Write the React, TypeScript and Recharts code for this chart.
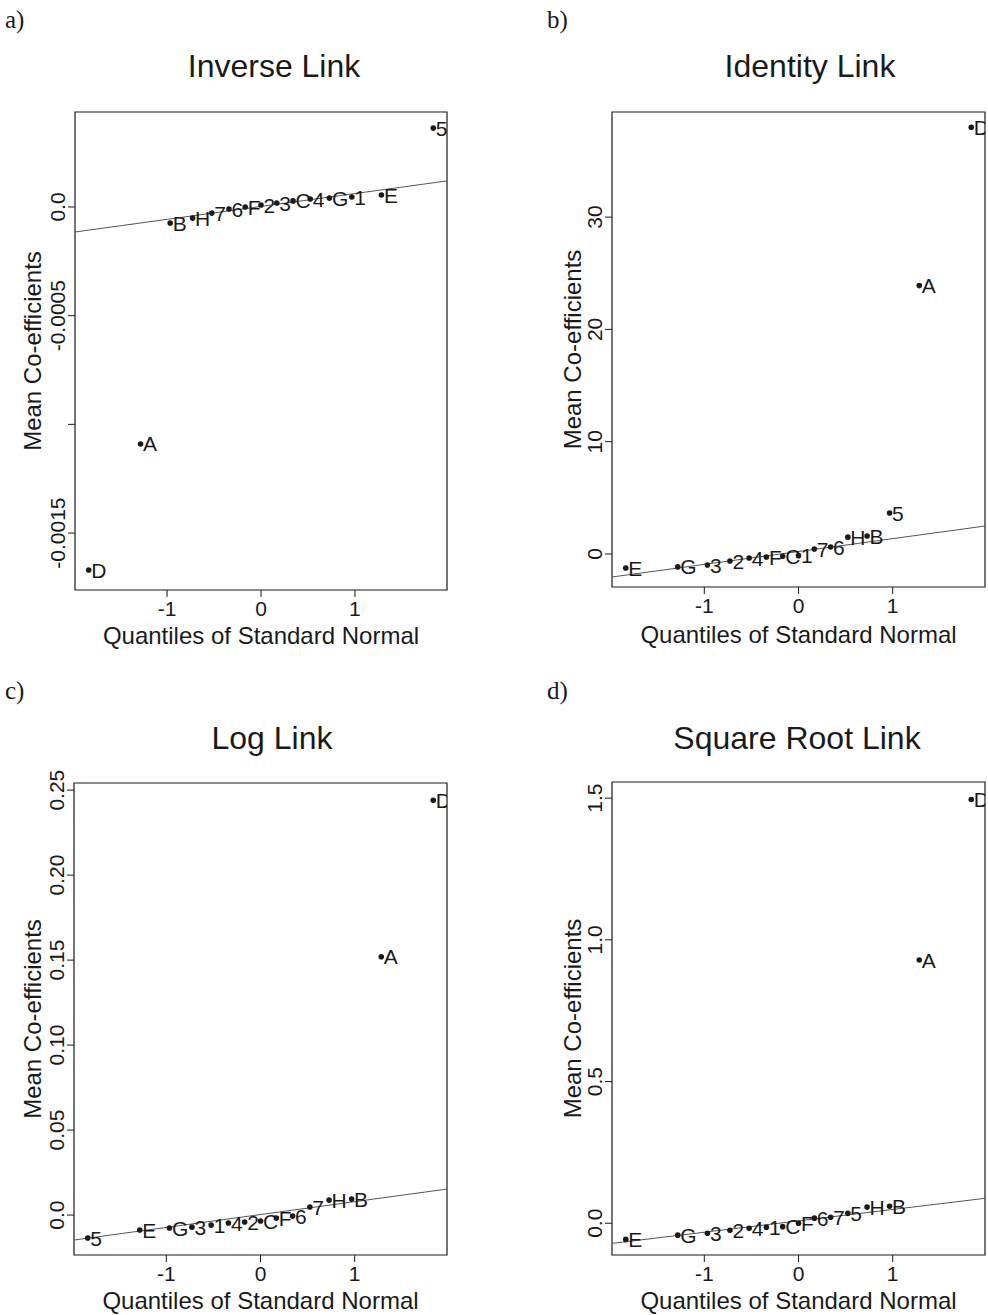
import React from 'react'
import { ScatterChart, Scatter, XAxis, YAxis, ReferenceLine, ReferenceArea } from 'recharts'

// normal quantiles along the x axis (same for every panel)
const quantiles = [-1.834, -1.282, -0.967, -0.728, -0.524, -0.341, -0.168, 0, 0.168, 0.341, 0.524, 0.728, 0.967, 1.282, 1.834]
const xDomain = [-1.98, 1.98]
const xTicks = [-1, 0, 1]

// a) Inverse link
const labelsA = ['D', 'A', 'B', 'H', '7', '6', 'F', '2', '3', 'C', '4', 'G', '1', 'E', '5']
const valuesA = [-0.00167, -0.00109, -0.000074, -0.000051, -0.000028, -0.000009, 0, 0.000009, 0.000018, 0.000028, 0.000037, 0.000041, 0.000046, 0.000055, 0.000363]
const lineA = [-0.000115, 0.00012]
const ticksA = [-0.0015, -0.001, -0.0005, 0]
const tickLabelsA = ['-0.0015', '', '-0.0005', '0.0']

// b) Identity link
const labelsB = ['E', 'G', '3', '2', '4', 'F', 'C', '1', '7', '6', 'H', 'B', '5', 'A', 'D']
const valuesB = [-1.25, -1.15, -0.98, -0.62, -0.36, -0.27, -0.2, -0.15, 0.44, 0.62, 1.5, 1.6, 3.65, 23.9, 38.0]
const lineB = [-2.05, 2.49]
const ticksB = [0, 10, 20, 30]
const tickLabelsB = ['0', '10', '20', '30']

// c) Log link
const labelsC = ['5', 'E', 'G', '3', '1', '4', '2', 'C', 'F', '6', '7', 'H', 'B', 'A', 'D']
const valuesC = [-0.0135, -0.0088, -0.0076, -0.0071, -0.0059, -0.0047, -0.0041, -0.0035, -0.0018, -0.0006, 0.0047, 0.0088, 0.0094, 0.152, 0.244]
const lineC = [-0.0147, 0.0153]
const ticksC = [0, 0.05, 0.1, 0.15, 0.2, 0.25]
const tickLabelsC = ['0.0', '0.05', '0.10', '0.15', '0.20', '0.25']

// d) Square root link
const labelsD = ['E', 'G', '3', '2', '4', '1', 'C', 'F', '6', '7', '5', 'H', 'B', 'A', 'D']
const valuesD = [-0.057, -0.042, -0.035, -0.025, -0.018, -0.014, -0.012, 0, 0.018, 0.021, 0.035, 0.057, 0.06, 0.929, 1.495]
const lineD = [-0.071, 0.088]
const ticksD = [0, 0.5, 1, 1.5]
const tickLabelsD = ['0.0', '0.5', '1.0', '1.5']

const INK = '#1a1a1a'
const SANS = '"Liberation Sans", Arial, Helvetica, sans-serif'

const toPoints = (values: number[], labels: string[]) =>
  values.map((v, i) => ({ x: quantiles[i], y: v, label: labels[i] }))

const XTick = (props: any) => {
  const { x, y, payload } = props
  return (
    <text x={x} y={y} dy="0.71em" textAnchor="middle" fontSize={21} fill={INK}>
      {payload.value}
    </text>
  )
}

const makeYTick = (ticks: number[], labels: string[]) => (props: any) => {
  const { x, y, payload } = props
  const i = ticks.findIndex((t) => Math.abs(t - payload.value) < 1e-9)
  const bx = x - 3
  return (
    <text x={bx} y={y} transform={`rotate(-90 ${bx} ${y})`} textAnchor="middle" fontSize={21} fill={INK}>
      {i >= 0 ? labels[i] : ''}
    </text>
  )
}

const LabelledDot = (props: any) => {
  const { cx, cy, payload } = props
  return (
    <g>
      <circle cx={cx} cy={cy} r={2.8} fill={INK} />
      <text x={cx + 2.5} y={cy} dy="0.36em" fontSize={21} fill={INK}>
        {payload.label}
      </text>
    </g>
  )
}

interface PanelProps {
  left: number
  top: number
  width: number
  height: number
  marginTop: number
  marginRight: number
  yWidth: number
  xHeight: number
  xLabelOffset: number
  yLabelOffset: number
  yDomain: number[]
  ticks: number[]
  tickLabels: string[]
  values: number[]
  labels: string[]
  line: number[]
}

const Panel = (p: PanelProps) => {
  const data = toPoints(p.values, p.labels)
  return (
    <div style={{ position: 'absolute', left: p.left, top: p.top }}>
      <ScatterChart
        width={p.width}
        height={p.height}
        margin={{ top: p.marginTop, right: p.marginRight, bottom: 0, left: 0 }}
      >
        <XAxis
          type="number"
          dataKey="x"
          domain={xDomain}
          ticks={xTicks}
          interval={0}
          allowDataOverflow
          axisLine={false}
          tickLine={{ stroke: INK }}
          tickSize={7}
          tickMargin={4}
          height={p.xHeight}
          tick={XTick}
          label={{
            value: 'Quantiles of Standard Normal',
            position: 'insideBottom',
            offset: p.xLabelOffset,
            fontSize: 24,
            fill: INK,
          }}
        />
        <YAxis
          type="number"
          dataKey="y"
          domain={p.yDomain}
          ticks={p.ticks}
          interval={0}
          allowDataOverflow
          axisLine={false}
          tickLine={{ stroke: INK }}
          tickSize={7}
          tickMargin={0}
          width={p.yWidth}
          tick={makeYTick(p.ticks, p.tickLabels)}
          label={{
            value: 'Mean Co-efficients',
            angle: -90,
            position: 'insideLeft',
            offset: p.yLabelOffset,
            fontSize: 24,
            fill: INK,
            style: { textAnchor: 'middle' },
          }}
        />
        <ReferenceArea
          x1={xDomain[0]}
          x2={xDomain[1]}
          y1={p.yDomain[0]}
          y2={p.yDomain[1]}
          fill="none"
          stroke={INK}
          strokeWidth={1.2}
          ifOverflow="visible"
        />
        <ReferenceLine
          segment={[
            { x: xDomain[0], y: p.line[0] },
            { x: xDomain[1], y: p.line[1] },
          ]}
          stroke="#555"
          strokeWidth={1}
          ifOverflow="visible"
        />
        <Scatter data={data} shape={LabelledDot} isAnimationActive={false} />
      </ScatterChart>
    </div>
  )
}

const tagStyle = (left: number, top: number): React.CSSProperties => ({
  position: 'absolute',
  left,
  top,
  fontFamily: '"Liberation Serif", "DejaVu Serif", serif',
  fontSize: 25,
  lineHeight: '25px',
  color: INK,
})

const titleStyle = (center: number, top: number): React.CSSProperties => ({
  position: 'absolute',
  left: center - 200,
  top,
  width: 400,
  textAlign: 'center',
  fontSize: 32,
  lineHeight: '32px',
  color: INK,
})

const App = () => {
  return (
    <div
      style={{
        position: 'absolute',
        left: 0,
        top: 0,
        width: 988,
        height: 1315,
        background: '#fff',
        fontFamily: SANS,
        overflow: 'hidden',
      }}
    >
      <Panel
        left={0} top={0} width={494} height={657}
        marginTop={112} marginRight={47} yWidth={75} xHeight={67}
        xLabelOffset={13} yLabelOffset={32}
        yDomain={[-0.001762, 0.000437]} ticks={ticksA} tickLabels={tickLabelsA}
        values={valuesA} labels={labelsA} line={lineA}
      />
      <Panel
        left={494} top={0} width={494} height={657}
        marginTop={112} marginRight={3} yWidth={118} xHeight={70}
        xLabelOffset={14} yLabelOffset={78}
        yDomain={[-2.94, 39.36]} ticks={ticksB} tickLabels={tickLabelsB}
        values={valuesB} labels={labelsB} line={lineB}
      />
      <Panel
        left={0} top={657} width={494} height={658}
        marginTop={126} marginRight={47} yWidth={74} xHeight={60}
        xLabelOffset={6} yLabelOffset={32}
        yDomain={[-0.0235, 0.2542]} ticks={ticksC} tickLabels={tickLabelsC}
        values={valuesC} labels={labelsC} line={lineC}
      />
      <Panel
        left={494} top={657} width={494} height={658}
        marginTop={125} marginRight={3} yWidth={118} xHeight={60}
        xLabelOffset={6} yLabelOffset={78}
        yDomain={[-0.112, 1.557]} ticks={ticksD} tickLabels={tickLabelsD}
        values={valuesD} labels={labelsD} line={lineD}
      />

      <div style={tagStyle(5, 7)}>a)</div>
      <div style={tagStyle(547, 7)}>b)</div>
      <div style={tagStyle(5, 678)}>c)</div>
      <div style={tagStyle(547, 678)}>d)</div>

      <div style={titleStyle(274, 50)}>Inverse Link</div>
      <div style={titleStyle(810, 50)}>Identity Link</div>
      <div style={titleStyle(272, 722)}>Log Link</div>
      <div style={titleStyle(797, 722)}>Square Root Link</div>
    </div>
  )
}

export default App
